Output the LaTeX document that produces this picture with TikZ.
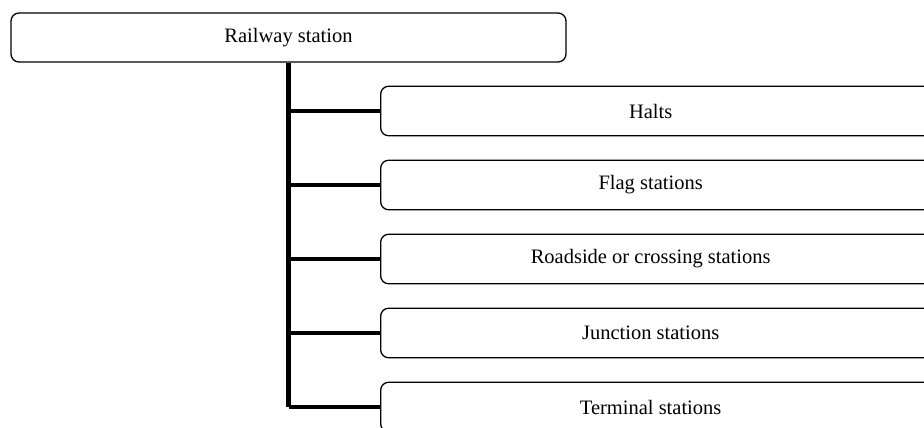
\documentclass[tikz,border=0pt]{standalone}
\usepackage{fontspec}
\setmainfont{Liberation Serif}
\usepackage{tikz}
\usetikzlibrary{positioning}

\begin{document}
\begin{tikzpicture}[x=1pt,y=-1pt,font=\fontsize{20.5}{24}\selectfont,
  rootbox/.style={draw,line width=1.3pt,rounded corners=8pt,minimum width=555pt,minimum height=49pt,inner sep=0pt},
  kidbox/.style={draw,line width=1.3pt,rounded corners=8pt,minimum width=556pt,minimum height=49.5pt,inner sep=0pt,anchor=west,
    execute at end node={\hspace*{16pt}}},
  trunkline/.style={line width=5.5pt},
  branchline/.style={line width=4.5pt}]
\useasboundingbox (0,0) rectangle (924,428);
\clip (0,0) rectangle (924,428);
\node[rootbox] (root) at (288.5,37.5) {Railway station};
\foreach \i/\t in {0/Halts,1/Flag stations,2/Roadside or crossing stations,3/Junction stations,4/Terminal stations}{
  \node[kidbox] (kid\i) at (380,111+\i*74) {\t};
}
% tree lines
\draw[trunkline] (root.south) -- (root.south |- kid4.west);
\foreach \i in {0,...,4}{
  \draw[branchline] (root.south |- kid\i.west) -- (kid\i.west);
}
\end{tikzpicture}
\end{document}
